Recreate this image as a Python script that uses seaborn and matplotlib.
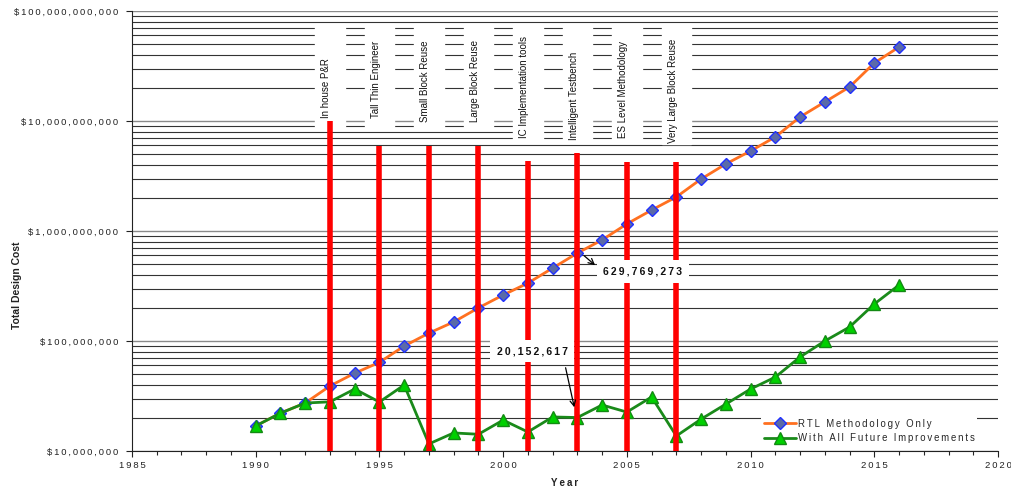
import numpy as np
import pandas as pd
import matplotlib
matplotlib.use("Agg")
import matplotlib.pyplot as plt
import matplotlib.ticker as mticker
import seaborn as sns

# series
years = list(range(1990, 2017))
rtl_only = [16.9e6, 22.1e6, 27.3e6, 39e6, 51e6, 64e6, 90e6, 118e6, 149e6, 200e6,
            262e6, 336e6, 460e6, 629769273, 830e6, 1.16e9, 1.55e9, 2.04e9, 2.97e9,
            4.07e9, 5.34e9, 7.16e9, 10.9e9, 14.9e9, 20.4e9, 33.7e9, 47.1e9]
all_future = [16.9e6, 22.1e6, 27.3e6, 28e6, 36.6e6, 27.9e6, 39.8e6, 11.6e6, 14.6e6,
              14.2e6, 19.1e6, 14.9e6, 20.4e6, 20152617, 26.2e6, 22.6e6, 31e6, 13.7e6,
              19.5e6, 26.7e6, 36.6e6, 47e6, 71.6e6, 100e6, 134e6, 217e6, 323e6]

milestones = ["In house P&R", "Tall Thin Engineer", "Small Block Reuse",
              "Large Block Reuse", "IC Implementation tools", "Intelligent Testbench",
              "ES Level Methodology", "Very Large Block Reuse"]
milestone_years = [1993, 1995, 1997, 1999, 2001, 2003, 2005, 2007]
bar_tops = [1.0e10, 5.9e9, 5.9e9, 5.9e9, 4.3e9, 5.1e9, 4.2e9, 4.2e9]
text_bottoms = [1.06e10, 1.06e10, 9.8e9, 9.8e9, 7.0e9, 6.7e9, 7.0e9, 6.3e9]
box_bottoms = [8.8e9, 8.8e9, 8.8e9, 8.8e9, 6.6e9, 6.6e9, 6.6e9, 6.2e9]
box_top = 7.6e10

THIN = "\u2009"


def spaced(s):
    return THIN.join(s)


sns.set_style("white")
plt.rcParams["font.family"] = ["Liberation Sans", "DejaVu Sans"]

fig = plt.figure(figsize=(10.12, 4.92), dpi=100)
ax = fig.add_axes([0.1304, 0.0833, 0.8558, 0.8943])

ax.set_yscale("log")
ax.set_xlim(1985, 2020)
ax.set_ylim(1e7, 1e11)

# horizontal gridlines, every 1-9 step of each decade
ax.yaxis.set_minor_locator(mticker.LogLocator(base=10, subs=np.arange(2, 10)))
ax.grid(which="major", axis="y", color="#8a8a8a", lw=1.0)
ax.grid(which="minor", axis="y", color="#333333", lw=0.8)
ax.grid(which="both", axis="x", visible=False)
ax.set_axisbelow(True)

# white backgrounds behind the milestone labels
ax.bar(milestone_years, [box_top - b for b in box_bottoms], bottom=box_bottoms,
       width=1.2, color="white", zorder=1)

sns.lineplot(x=years, y=rtl_only, ax=ax, color="#ff7020", lw=2, marker="D",
             markersize=6, markerfacecolor="#5b6aa8", markeredgecolor="#2030ff",
             markeredgewidth=1, label=spaced("RTL Methodology Only"), zorder=2)
sns.lineplot(x=years, y=all_future, ax=ax, color="#1a8a1a", lw=2, marker="^",
             markersize=8, markerfacecolor="#00d000", markeredgecolor="#138a13",
             markeredgewidth=1, label=spaced("With All Future Improvements"), zorder=2)

ax.vlines(milestone_years, 1e7, bar_tops, colors="#ff0000", lw=4, zorder=3)

for name, yr, yb in zip(milestones, milestone_years, text_bottoms):
    ax.text(yr - 0.15, yb, name, rotation=90, ha="center", va="bottom",
            fontsize=7, color="#111111", zorder=4)

# callouts
ax.annotate("", xy=(2003.8, 4.71e8), xytext=(2003.19, 6.19e8),
            arrowprops=dict(arrowstyle="->", color="black", lw=0.9), zorder=6)
ax.text(2005.65, 4.28e8, spaced("629,769,273"), ha="center", va="center",
        fontsize=7.5, fontweight="bold", color="#111111", zorder=5,
        bbox=dict(boxstyle="square,pad=0.6", fc="white", ec="none"))
ax.annotate("", xy=(2002.9, 2.36e7), xytext=(2002.5, 6.05e7),
            arrowprops=dict(arrowstyle="->", color="black", lw=0.9), zorder=6)
ax.text(2001.17, 8.11e7, spaced("20,152,617"), ha="center", va="center",
        fontsize=7.5, fontweight="bold", color="#111111", zorder=5,
        bbox=dict(boxstyle="square,pad=0.6", fc="white", ec="none"))

# axes, ticks
ax.xaxis.set_major_locator(mticker.MultipleLocator(5))
ax.xaxis.set_minor_locator(mticker.MultipleLocator(1))
ax.xaxis.set_major_formatter(mticker.FuncFormatter(lambda v, p: spaced(f"{int(v)}")))
ax.yaxis.set_major_formatter(mticker.FuncFormatter(lambda v, p: spaced(f"${v:,.0f}")))
ax.tick_params(axis="x", which="major", direction="out", length=4, width=0.8,
               pad=3, labelsize=6.8, colors="#222222", bottom=True)
ax.tick_params(axis="x", which="minor", direction="out", length=3, width=0.8,
               bottom=True)
ax.tick_params(axis="y", which="major", direction="out", length=4, width=0.8,
               pad=6, labelsize=6.8, colors="#222222", left=True)
ax.tick_params(axis="y", which="minor", length=0)

for side in ["top", "right"]:
    ax.spines[side].set_visible(False)
for side in ["left", "bottom"]:
    ax.spines[side].set_color("#222222")
    ax.spines[side].set_linewidth(0.8)

ax.set_xlabel(spaced("Year"), fontsize=7, fontweight="bold", color="#222222")
ax.xaxis.set_label_coords(0.5, -0.062)
ax.set_ylabel("Total Design Cost", fontsize=7.5, fontweight="bold", color="#222222")
ax.yaxis.set_label_coords(-0.127, 0.377)

leg = ax.legend(loc="upper left", bbox_to_anchor=(0.726, 0.08), frameon=True,
                fontsize=6.9, handlelength=3.4, handletextpad=0.15, labelspacing=0.5,
                borderpad=0.3, borderaxespad=0)
leg.get_frame().set_facecolor("white")
leg.get_frame().set_edgecolor("none")
leg.get_frame().set_alpha(1)
leg.set_zorder(7)

fig.savefig("out.png", dpi=100)
